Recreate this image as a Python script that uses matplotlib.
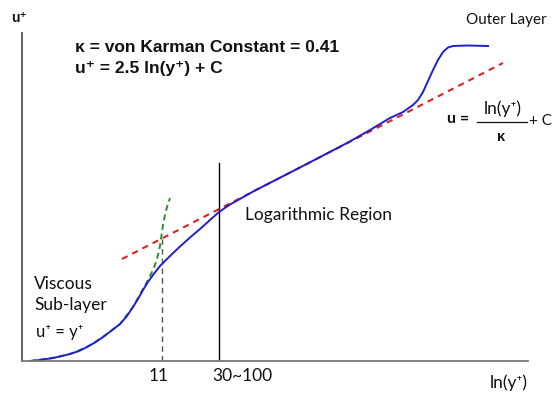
#!/usr/bin/env python3
"""Schematic law-of-the-wall velocity profile (u+ vs ln(y+))."""
import matplotlib.pyplot as plt

W, H = 554, 394

# schematic units: x along ln(y+), u along u+ (axis corner at 0, 0)
blue_x = [8, 18, 31, 40, 48, 57, 65, 73, 81, 89, 98, 105, 111, 116, 121, 126,
          131, 138, 148, 158, 168, 178, 188, 197, 208, 233, 278, 326, 348, 368,
          381, 391, 396, 401, 406, 411, 416, 421, 426, 431, 445, 466]
blue_u = [0, 1, 3, 5, 7, 10, 14, 18.5, 24, 30, 37, 45, 54, 62, 71, 79,
          86, 95, 105, 114.5, 123.5, 132, 141, 149, 156.5, 170.5, 193.5, 218.5,
          231, 243, 249, 256, 261, 269, 280, 291, 301, 309, 313.5, 315, 315.5, 315]

visc_x = [8, 31, 48, 65, 81, 98, 111, 121, 126, 131, 134, 136, 138, 139, 141,
          143, 145, 148]
visc_u = [0, 3, 7, 14, 24, 37, 54, 72, 81, 91, 99, 106, 115, 122, 136,
          146, 154, 163]

log_x = [100, 481]
log_u = [102, 298]

x_11 = 140
u_11 = 122
x_30 = 197
u_30 = 198


def px(x, y):
    return x / W, 1 - y / H


fig = plt.figure(figsize=(W / 100, H / 100), dpi=100)
ax = fig.add_axes([22 / W, 1 - 361 / H, 506 / W, 328 / H])
ax.set_xlim(0, 506)
ax.set_ylim(0, 328)
ax.set_xticks([])
ax.set_yticks([])
for s in ['top', 'right']:
    ax.spines[s].set_visible(False)
ax.spines['left'].set_color('#555555')
ax.spines['bottom'].set_color('#777777')
ax.spines['left'].set_linewidth(1.3)
ax.spines['bottom'].set_linewidth(1.3)

ax.plot([x_11, x_11], [0, u_11], color='#555555', lw=1.0, ls=(0, (4, 3)))
ax.plot([x_30, x_30], [0, u_30], color='black', lw=1.0)
ax.plot(visc_x, visc_u, color='#2e8b2e', lw=1.4, ls=(0, (3, 2)))
ax.plot(log_x, log_u, color='#dd2222', lw=1.5, ls=(0, (3, 2.5)))
ax.plot(blue_x, blue_u, color='#1f1fd0', lw=1.4)

bold = dict(family=['Liberation Sans', 'DejaVu Sans'], weight='bold',
            fontsize=12.5, color='#111111')
cal = dict(family=['Lato', 'DejaVu Sans'], fontsize=11, color='#111111')

fig.text(*px(11, 18), 'u\u207a', va='center', ha='left', **dict(bold, fontsize=10))
fig.text(*px(75, 48), '\u03ba = von Karman Constant = 0.41', va='center', **bold)
fig.text(*px(75, 68), 'u\u207a = 2.5 ln(y\u207a) + C', va='center', **bold)
fig.text(*px(466, 20), 'Outer Layer', va='center', **cal)
fig.text(*px(245, 215), 'Logarithmic Region', va='center', **dict(cal, fontsize=12.5))
fig.text(*px(34, 284), 'Viscous', va='center', **dict(cal, fontsize=12.5))
fig.text(*px(34, 305), 'Sub-layer', va='center', **dict(cal, fontsize=12.5))
fig.text(*px(36, 332), 'u\u207a = y\u207a', va='center', **dict(cal, fontsize=12))
fig.text(*px(159, 376), '11', va='center', ha='center', **dict(cal, fontsize=12.5))
fig.text(*px(242, 376), '30~100', va='center', ha='center', **dict(cal, fontsize=12.5))
fig.text(*px(509, 383), 'ln(y\u207a)', va='center', ha='center', **dict(cal, fontsize=12.5))

# right-hand formula u = ln(y+)/kappa + C
fig.text(*px(447, 119), 'u =', va='center', **dict(cal, weight='bold', fontsize=11.5))
fig.text(*px(503, 109), 'ln(y\u207a)', va='center', ha='center', **dict(cal, fontsize=12.5))
fig.add_artist(plt.Line2D([477 / W, 527 / W], [1 - 122 / H, 1 - 122 / H],
                          color='#111111', lw=0.9))
fig.text(*px(501, 137), '\u03ba', va='center', ha='center', **dict(bold, fontsize=10.5))
fig.text(*px(529, 121), '+ C', va='center', **cal)

fig.savefig('out.png', dpi=100)
